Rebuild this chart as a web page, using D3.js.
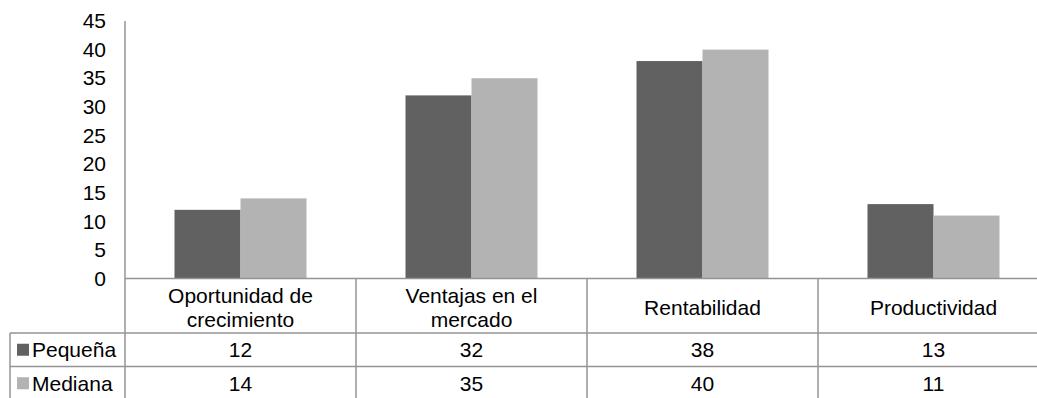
<!DOCTYPE html>
<html>
<head>
<meta charset="utf-8">
<script src="https://cdn.jsdelivr.net/npm/d3@7/dist/d3.min.js"></script>
<style>
  html, body { margin: 0; padding: 0; background: #fff; }
  svg { display: block; font-family: "Liberation Sans", Arial, sans-serif; }
</style>
</head>
<body>
<svg id="chart" width="1037" height="398"></svg>
<script>
// Categories (each label split into lines) and the two series
const categories = ["Oportunidad de crecimiento", "Ventajas en el mercado", "Rentabilidad", "Productividad"];
const categoryLines = [["Oportunidad de", "crecimiento"], ["Ventajas en el", "mercado"], ["Rentabilidad"], ["Productividad"]];
const seriesNames = ["Pequeña", "Mediana"];
const pequena = [12, 32, 38, 13];
const mediana = [14, 35, 40, 11];
const yTicks = [0, 5, 10, 15, 20, 25, 30, 35, 40, 45];

const seriesValues = [pequena, mediana];
const colors = ["#616161", "#b3b3b3"];
const lineColor = "#949494";
const fontSize = 21;

const svg = d3.select("#chart");
const W = 1037, H = 398;

const plotLeft = 125, plotTop = 21, plotBottom = 278.5;
const bandWidth = 231;
const tableRow1 = 333, tableRow2 = 366.5, tableBottom = 400;
const tableLeft = 10;

const x0 = d3.scaleBand()
  .domain(categories)
  .range([plotLeft, plotLeft + bandWidth * categories.length])
  .paddingInner(0).paddingOuter(0);

const x1 = d3.scaleBand()
  .domain(seriesNames)
  .range([49.5, bandWidth - 49.5])
  .paddingInner(0).paddingOuter(0);

const y = d3.scaleLinear().domain([0, 45]).range([plotBottom, plotTop]);

// Bars
const groups = svg.append("g").selectAll("g")
  .data(categories)
  .join("g")
  .attr("transform", d => `translate(${x0(d)},0)`);

groups.selectAll("rect")
  .data((d, i) => seriesNames.map((s, j) => ({ s, v: seriesValues[j][i], c: colors[j] })))
  .join("rect")
  .attr("x", d => x1(d.s))
  .attr("width", x1.bandwidth())
  .attr("y", d => y(d.v))
  .attr("height", d => y(0) - y(d.v))
  .attr("fill", d => d.c);

// Y axis labels (no tick marks, no domain line from the generator)
const yAxis = d3.axisLeft(y).tickValues(yTicks).tickSize(0).tickPadding(19);
const yg = svg.append("g")
  .attr("transform", `translate(${plotLeft},0)`)
  .call(yAxis);
yg.select(".domain").remove();
yg.selectAll("text")
  .attr("font-size", fontSize)
  .attr("font-family", "Liberation Sans, Arial, sans-serif")
  .attr("fill", "#000");

// Vertical axis line running down through the table
svg.append("line")
  .attr("x1", plotLeft).attr("x2", plotLeft)
  .attr("y1", plotTop).attr("y2", tableBottom)
  .attr("stroke", lineColor).attr("stroke-width", 1.5);

// Table grid lines
const gridG = svg.append("g").attr("stroke", lineColor).attr("stroke-width", 1.5);
gridG.append("line").attr("x1", plotLeft).attr("x2", W).attr("y1", plotBottom).attr("y2", plotBottom);
gridG.append("line").attr("x1", tableLeft).attr("x2", W).attr("y1", tableRow1).attr("y2", tableRow1);
gridG.append("line").attr("x1", tableLeft).attr("x2", W).attr("y1", tableRow2).attr("y2", tableRow2);
gridG.append("line").attr("x1", tableLeft).attr("x2", tableLeft).attr("y1", tableRow1).attr("y2", tableBottom);
gridG.selectAll("line.div")
  .data(categories.slice(1))
  .join("line")
  .attr("class", "div")
  .attr("x1", d => x0(d)).attr("x2", d => x0(d))
  .attr("y1", plotBottom).attr("y2", tableBottom);

// Category header labels
const headerCenter = (plotBottom + tableRow1) / 2 + 2;
const lineH = 24;
svg.append("g").selectAll("text")
  .data(categories)
  .join("text")
  .attr("x", d => x0(d) + bandWidth / 2)
  .attr("text-anchor", "middle")
  .attr("font-size", fontSize)
  .attr("fill", "#000")
  .each(function (d, i) {
    const lines = categoryLines[i];
    const start = headerCenter - (lines.length - 1) * lineH / 2;
    d3.select(this).selectAll("tspan")
      .data(lines)
      .join("tspan")
      .attr("x", x0(d) + bandWidth / 2)
      .attr("y", (l, k) => start + k * lineH)
      .attr("dy", "0.35em")
      .text(l => l);
  });

// Table rows: legend key, series name, values
const rowTops = [tableRow1, tableRow2];
const rowBottoms = [tableRow2, tableBottom];
seriesNames.forEach((s, j) => {
  const cy = (rowTops[j] + rowBottoms[j]) / 2;
  svg.append("rect")
    .attr("x", 17).attr("y", cy - 6)
    .attr("width", 12).attr("height", 12)
    .attr("fill", colors[j]);
  svg.append("text")
    .attr("x", 32).attr("y", cy).attr("dy", "0.35em")
    .attr("font-size", fontSize).attr("fill", "#000")
    .text(s);
  svg.append("g").selectAll("text")
    .data(categories)
    .join("text")
    .attr("x", d => x0(d) + bandWidth / 2)
    .attr("y", cy).attr("dy", "0.35em")
    .attr("text-anchor", "middle")
    .attr("font-size", fontSize).attr("fill", "#000")
    .text((d, i) => seriesValues[j][i]);
});
</script>
</body>
</html>
